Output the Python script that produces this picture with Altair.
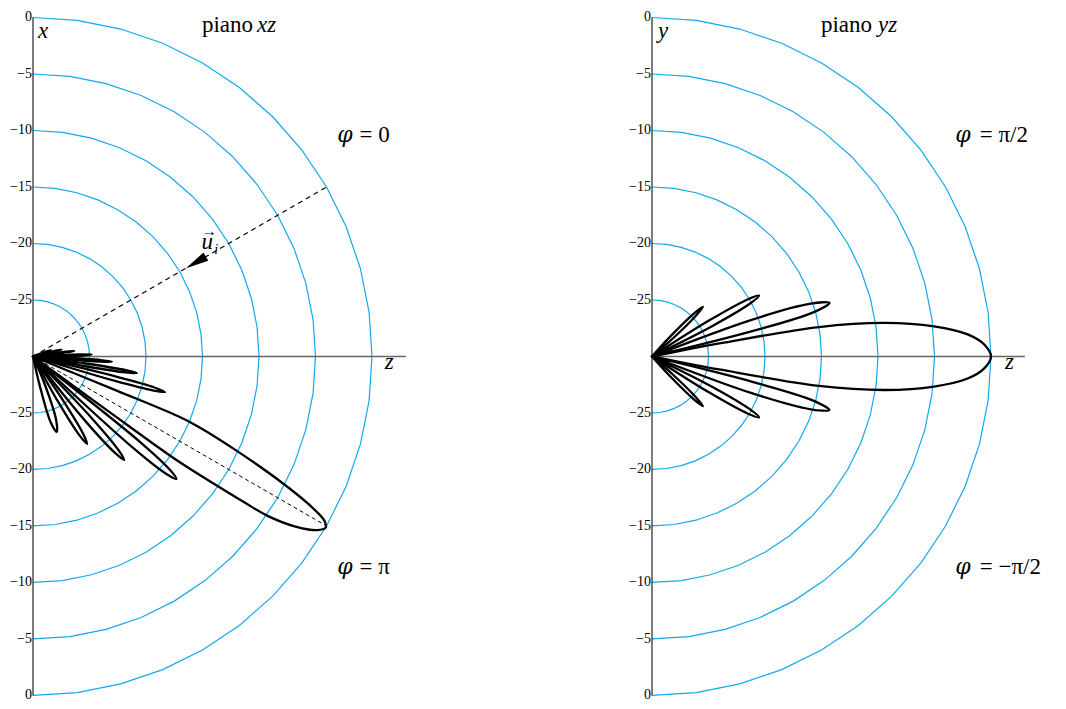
import math
import altair as alt
import pandas as pd
import numpy as np

# ---------------- values ----------------
FLOOR_DB = -30                                  # centre of each half-polar panel
LEVELS_DB = [0, -5, -10, -15, -20, -25]         # blue grid circles
TICK_TEXT = ["0", "\u22125", "\u221210", "\u221215", "\u221220", "\u221225"]
CIRCLE_STEP_DEG = 7.5                           # the grid circles are polylines
PANEL_CX = [0.0, 54.78]                         # panel centres (data units = dB above floor)
Z_AXIS_LEN = 33.0

INCIDENT_DEG = 30        # dashed direction of u_i
SPECULAR_DEG = -30       # dashed direction of the main lobe (xz plane)

# xz plane (phi = 0 above, phi = pi below): lobe outlines, angle from z (deg) and level (dB)
XZ_ANG = [
    [-22.3, -22.2, -22.4, -23.0, -24.9, -27.0, -28.3, -29.4, -30.3, -31.4, -33.0, -34.2, -34.6, -35.1, -35.8, -36.0, -36.0],
    [-38.0, -38.6, -39.6, -40.5, -41.4, -42.4, -43.0],
    [-46.0, -46.4, -47.6, -48.6, -49.6, -50.9, -51.5],
    [-55.0, -55.6, -57.0, -58.2, -59.5, -61.0, -61.5],
    [-66.5, -67.0, -70.0, -72.5, -75.0, -77.0, -77.5],
    [-13.3, -13.6, -14.3, -15.1, -15.8, -16.6, -17.0],
    [-7.4, -7.6, -8.4, -9.1, -9.8, -10.6, -10.8],
    [-2.0, -2.2, -3.0, -3.7, -4.4, -5.2, -5.4],
    [0.4, 0.6, 1.2, 1.9, 2.6, 3.2, 3.4],
    [6.0, 6.2, 7.0, 7.8, 8.6, 9.4, 9.6],
    [11.8, 12.0, 12.9, 13.7, 14.5, 15.4, 15.6],
    [17.8, 18.0, 18.8, 19.5, 20.2, 21.0, 21.2],
]
XZ_DB = [
    [-30, -22, -16.1, -14.1, -10, -5, -2.1, -0.4, 0, -0.5, -2.4, -4.9, -7.2, -10.3, -14.1, -22, -30],
    [-30, -17.9, -14.3, -13.3, -14.3, -17.9, -30],
    [-30, -22.4, -18.8, -17.8, -18.8, -22.4, -30],
    [-30, -25.4, -21.9, -20.9, -21.9, -25.4, -30],
    [-30, -27.4, -24, -23, -24, -27.4, -30],
    [-30, -22.5, -18.9, -17.9, -18.9, -22.5, -30],
    [-30, -25.3, -21.7, -20.7, -21.7, -25.3, -30],
    [-30, -27.6, -24, -23, -24, -27.6, -30],
    [-30, -28, -25.8, -24.8, -25.8, -28, -30],
    [-30, -28.5, -27.1, -26.3, -27.1, -28.5, -30],
    [-30, -29, -28, -27.4, -28, -29, -30],
    [-30, -29.3, -28.7, -28.3, -28.7, -29.3, -30],
]

# yz plane (phi = pi/2 above, phi = -pi/2 below)
YZ_ANG = [
    [11.5, 11.3, 10.9, 10.0, 8.2, 6.1, 4.0, 2.1, 0.0, -2.1, -4.0, -6.1, -8.2, -10.0, -10.9, -11.3, -11.5],
    [14.0, 14.2, 15.3, 16.8, 18.4, 20.2, 20.4],
    [-14.0, -14.2, -15.3, -16.8, -18.4, -20.2, -20.4],
    [26.5, 26.8, 28.4, 29.6, 30.8, 32.2, 32.5],
    [-26.5, -26.8, -28.4, -29.6, -30.8, -32.2, -32.5],
    [40.5, 40.9, 42.9, 44.3, 45.7, 47.5, 47.8],
    [-40.5, -40.9, -42.9, -44.3, -45.7, -47.5, -47.8],
]
YZ_DB = [
    [-30, -28, -23.8, -15, -9.2, -4.9, -2, -0.6, 0, -0.6, -2, -4.9, -9.2, -15, -23.8, -28, -30],
    [-30, -20.6, -15.2, -13.6, -15.2, -20.6, -30],
    [-30, -20.6, -15.2, -13.6, -15.2, -20.6, -30],
    [-30, -24, -20.1, -19.1, -20.1, -24, -30],
    [-30, -24, -20.1, -19.1, -20.1, -24, -30],
    [-30, -27.5, -24.7, -23.7, -24.7, -27.5, -30],
    [-30, -27.5, -24.7, -23.7, -24.7, -27.5, -30],
]

# ---------------- layout of the single coordinate frame ----------------
XMIN, XMAX = -2.212, 90.71
YMIN, YMAX = -30.49, 30.84
W, H = 1050, 693
FONT = "Liberation Serif"
BLUE = "#12a8ec"

xs = alt.Scale(domain=[XMIN, XMAX], nice=False, zero=False)
ys = alt.Scale(domain=[YMIN, YMAX], nice=False, zero=False)
X = alt.X("x:Q", scale=xs, axis=None)
Y = alt.Y("y:Q", scale=ys, axis=None)


def polar(cx, ang_deg, db):
    r = db - FLOOR_DB
    a = math.radians(ang_deg)
    return cx + r * math.cos(a), r * math.sin(a)


# lobes
rows = []
for pi, (angs_all, dbs_all) in enumerate([(XZ_ANG, XZ_DB), (YZ_ANG, YZ_DB)]):
    for li, (angs, dbs) in enumerate(zip(angs_all, dbs_all)):
        for k, (a, d) in enumerate(zip(angs, dbs)):
            x, y = polar(PANEL_CX[pi], a, d)
            rows.append(dict(lobe=f"p{pi}l{li}", k=k, x=x, y=y))
lobes_df = pd.DataFrame(rows)

# grid circles
rows = []
for pi, cx in enumerate(PANEL_CX):
    for lv in LEVELS_DB:
        for k, a in enumerate(np.arange(-90, 90 + 1e-9, CIRCLE_STEP_DEG)):
            x, y = polar(cx, a, lv)
            rows.append(dict(c=f"p{pi}c{lv}", k=k, x=x, y=y))
circ_df = pd.DataFrame(rows)

# axis lines
vaxis_df = pd.DataFrame([dict(x=cx, y=FLOOR_DB, y2=-FLOOR_DB) for cx in PANEL_CX])
zaxis_df = pd.DataFrame([dict(x=cx, x2=cx + Z_AXIS_LEN, y=0.0) for cx in PANEL_CX])

# tick labels
rows = []
for cx in PANEL_CX:
    for lv, t in zip(LEVELS_DB, TICK_TEXT):
        r = lv - FLOOR_DB
        rows.append(dict(x=cx, y=r, t=t))
        rows.append(dict(x=cx, y=-r, t=t))
ticks_df = pd.DataFrame(rows)

# dashed directions in the xz plane
x1, y1 = polar(PANEL_CX[0], INCIDENT_DEG, 0)
x2, y2 = polar(PANEL_CX[0], SPECULAR_DEG, 0)
dash1_df = pd.DataFrame([dict(x=PANEL_CX[0], y=0.0, x2=x1, y2=y1)])
dash2_df = pd.DataFrame([dict(x=PANEL_CX[0], y=0.0, x2=x2, y2=y2)])
ax, ay = polar(PANEL_CX[0], INCIDENT_DEG, -13.35)
arrow_df = pd.DataFrame([dict(x=ax, y=ay)])

# annotations
C2 = PANEL_CX[1]
title_df = pd.DataFrame([dict(x=19.47, y=28.68, t="piano"), dict(x=C2 + 19.47, y=28.68, t="piano")])
ital_df = pd.DataFrame([
    dict(x=19.82, y=28.68, t="xz"), dict(x=C2 + 20.0, y=28.68, t="yz"),
    dict(x=0.44, y=28.16, t="x"), dict(x=C2 + 0.53, y=28.16, t="y"),
    dict(x=31.14, y=-1.14, t="z"), dict(x=C2 + 31.23, y=-1.14, t="z"),
    dict(x=14.91, y=9.47, t="u"),
])
phi_df = pd.DataFrame([
    dict(x=26.93, y=18.95, t="\u03c6"),
    dict(x=26.93, y=-19.21, t="\u03c6"),
    dict(x=C2 + 26.84, y=18.95, t="\u03c6"),
    dict(x=C2 + 26.84, y=-19.21, t="\u03c6"),
])
eq_df = pd.DataFrame([
    dict(x=28.9, y=18.95, t="= 0"),
    dict(x=28.9, y=-19.21, t="= \u03c0"),
    dict(x=C2 + 29.0, y=18.95, t="= \u03c0/2"),
    dict(x=C2 + 29.0, y=-19.21, t="= \u2212\u03c0/2"),
])
vec_df = pd.DataFrame([dict(x=15.6, y=10.7, t="\u2192")])
sub_df = pd.DataFrame([dict(x=16.05, y=9.1, t="i")])

circles = alt.Chart(circ_df).mark_line(color=BLUE, strokeWidth=1.2).encode(
    x=X, y=Y, detail="c:N", order="k:Q")
vaxis = alt.Chart(vaxis_df).mark_rule(color="#111111", strokeWidth=1.1).encode(
    x=X, y=Y, y2="y2:Q")
zaxis = alt.Chart(zaxis_df).mark_rule(color="#666666", strokeWidth=1.5).encode(
    x=X, x2="x2:Q", y=Y)
dash1 = alt.Chart(dash1_df).mark_rule(color="black", strokeWidth=1.2, strokeDash=[5, 4]).encode(
    x=X, y=Y, x2="x2:Q", y2="y2:Q")
dash2 = alt.Chart(dash2_df).mark_rule(color="black", strokeWidth=1.0, strokeDash=[4, 3]).encode(
    x=X, y=Y, x2="x2:Q", y2="y2:Q")
lobes = alt.Chart(lobes_df).mark_line(color="black", strokeWidth=2.3, interpolate="catmull-rom",
                                      strokeJoin="round", strokeCap="round").encode(
    x=X, y=Y, detail="lobe:N", order="k:Q")
arrow = alt.Chart(arrow_df).mark_point(shape="M0,-1L0.42,1L-0.42,1Z", filled=True, size=529,
                                       angle=240, color="black", opacity=1).encode(x=X, y=Y)
ticks = alt.Chart(ticks_df).mark_text(align="right", baseline="middle", dx=-1, font=FONT,
                                      fontSize=14, color="black").encode(x=X, y=Y, text="t:N")
titles = alt.Chart(title_df).mark_text(align="right", baseline="alphabetic", font=FONT,
                                       fontSize=23, color="black").encode(x=X, y=Y, text="t:N")
itals = alt.Chart(ital_df).mark_text(align="left", baseline="alphabetic", font=FONT, fontStyle="italic",
                                     fontSize=23, color="black").encode(x=X, y=Y, text="t:N")
phis = alt.Chart(phi_df).mark_text(align="left", baseline="alphabetic", font="DejaVu Serif",
                                   fontStyle="italic", fontSize=22, color="black").encode(x=X, y=Y, text="t:N")
eqs = alt.Chart(eq_df).mark_text(align="left", baseline="alphabetic", font=FONT,
                                 fontSize=23, color="black").encode(x=X, y=Y, text="t:N")
vec = alt.Chart(vec_df).mark_text(align="center", baseline="alphabetic", font=FONT,
                                  fontSize=15, color="black").encode(x=X, y=Y, text="t:N")
sub = alt.Chart(sub_df).mark_text(align="left", baseline="alphabetic", font=FONT, fontStyle="italic",
                                  fontSize=14, color="black").encode(x=X, y=Y, text="t:N")

chart = alt.layer(circles, zaxis, vaxis, dash1, dash2, lobes, arrow, ticks, titles, itals, phis, eqs,
                  vec, sub).properties(
    width=W, height=H, padding=0, autosize=alt.AutoSizeParams(type="none"), background="white"
).configure_view(stroke=None)

chart.save("out.html", embed_options={"renderer": "svg", "actions": False})
